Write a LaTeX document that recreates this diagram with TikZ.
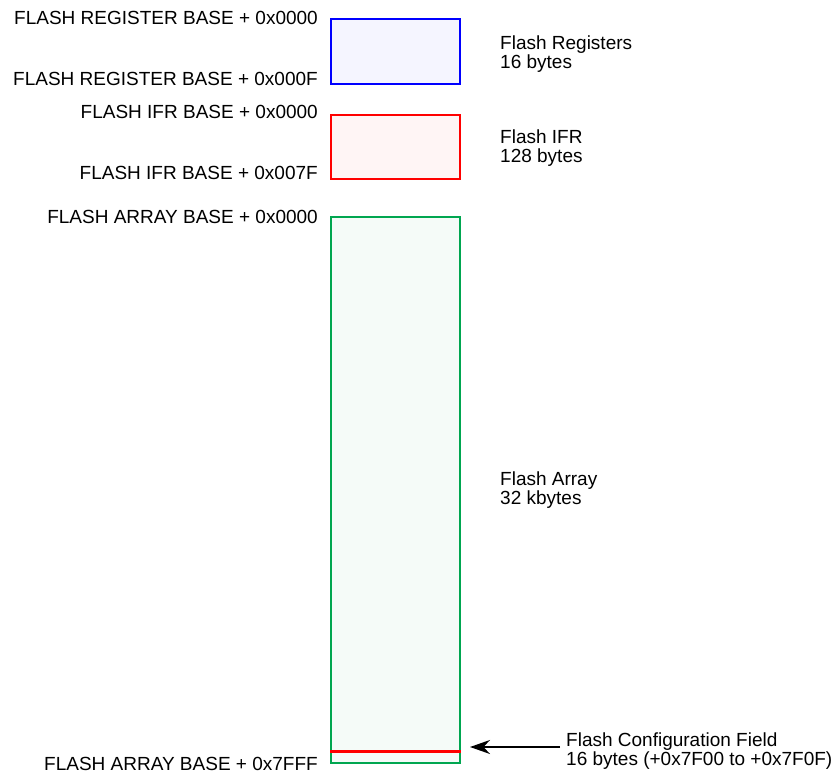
\documentclass[tikz,border=0pt]{standalone}
\usepackage{fontspec}
\setmainfont{Liberation Sans}
\usetikzlibrary{arrows.meta,positioning}

\definecolor{regblue}{RGB}{0,0,255}
\definecolor{ifrred}{RGB}{255,0,0}
\definecolor{arrgreen}{RGB}{0,166,80}

\begin{document}
\begin{tikzpicture}[
    x=1pt, y=-1pt,
    every node/.style={font=\fontsize{19}{19.5}\selectfont, inner sep=0pt},
    membox/.style={draw, line width=2pt, minimum width=129pt, anchor=north west},
    addr/.style={anchor=east},
    desc/.style={anchor=west, align=left},
    bigtip/.tip={Stealth[length=20pt, width=14pt]},
]
    \useasboundingbox (0,0) rectangle (836,773);

    \node[membox, regblue, fill=regblue!4, minimum height=65pt] (regbox) at (330,18) {};
    \node[membox, ifrred, fill=ifrred!4, minimum height=64pt] (ifrbox) at (330,114) {};
    \node[membox, arrgreen, fill=arrgreen!4, minimum height=546pt] (arraybox) at (330,216) {};

    % start / end addresses
    \node[addr] (regstart) at (318,18) {FLASH REGISTER BASE + 0x0000};
    \node[addr] (regend) at (318,79) {FLASH REGISTER BASE + 0x000F};
    \node[addr] (ifrstart) at (318,112) {FLASH IFR BASE + 0x0000};
    \node[addr] (ifrend) at (318,173) {FLASH IFR BASE + 0x007F};
    \node[addr] (arrstart) at (318,217) {FLASH ARRAY BASE + 0x0000};
    \node[addr] (arrend) at (318,764) {FLASH ARRAY BASE + 0x7FFF};

    % region names
    \node[desc] (regdesc) at (500,54) {Flash Registers\\16 bytes};
    \node[desc] (ifrdesc) at (500,148) {Flash IFR\\128 bytes};
    \node[desc] (arrdesc) at (500,490) {Flash Array\\32 kbytes};

    % configuration field
    \draw[ifrred, line width=3pt] (arraybox.south west |- 0,751) -- (arraybox.south east |- 0,751);
    \node[desc] (cfgdesc) at (566,751) {Flash Configuration Field\\16 bytes (+0x7F00 to +0x7F0F)};
    \coordinate (cfgtip) at (470,747);
    \draw[-bigtip, line width=1.5pt] (cfgdesc.west |- cfgtip) ++(-6,0) -- (cfgtip);
\end{tikzpicture}
\end{document}
